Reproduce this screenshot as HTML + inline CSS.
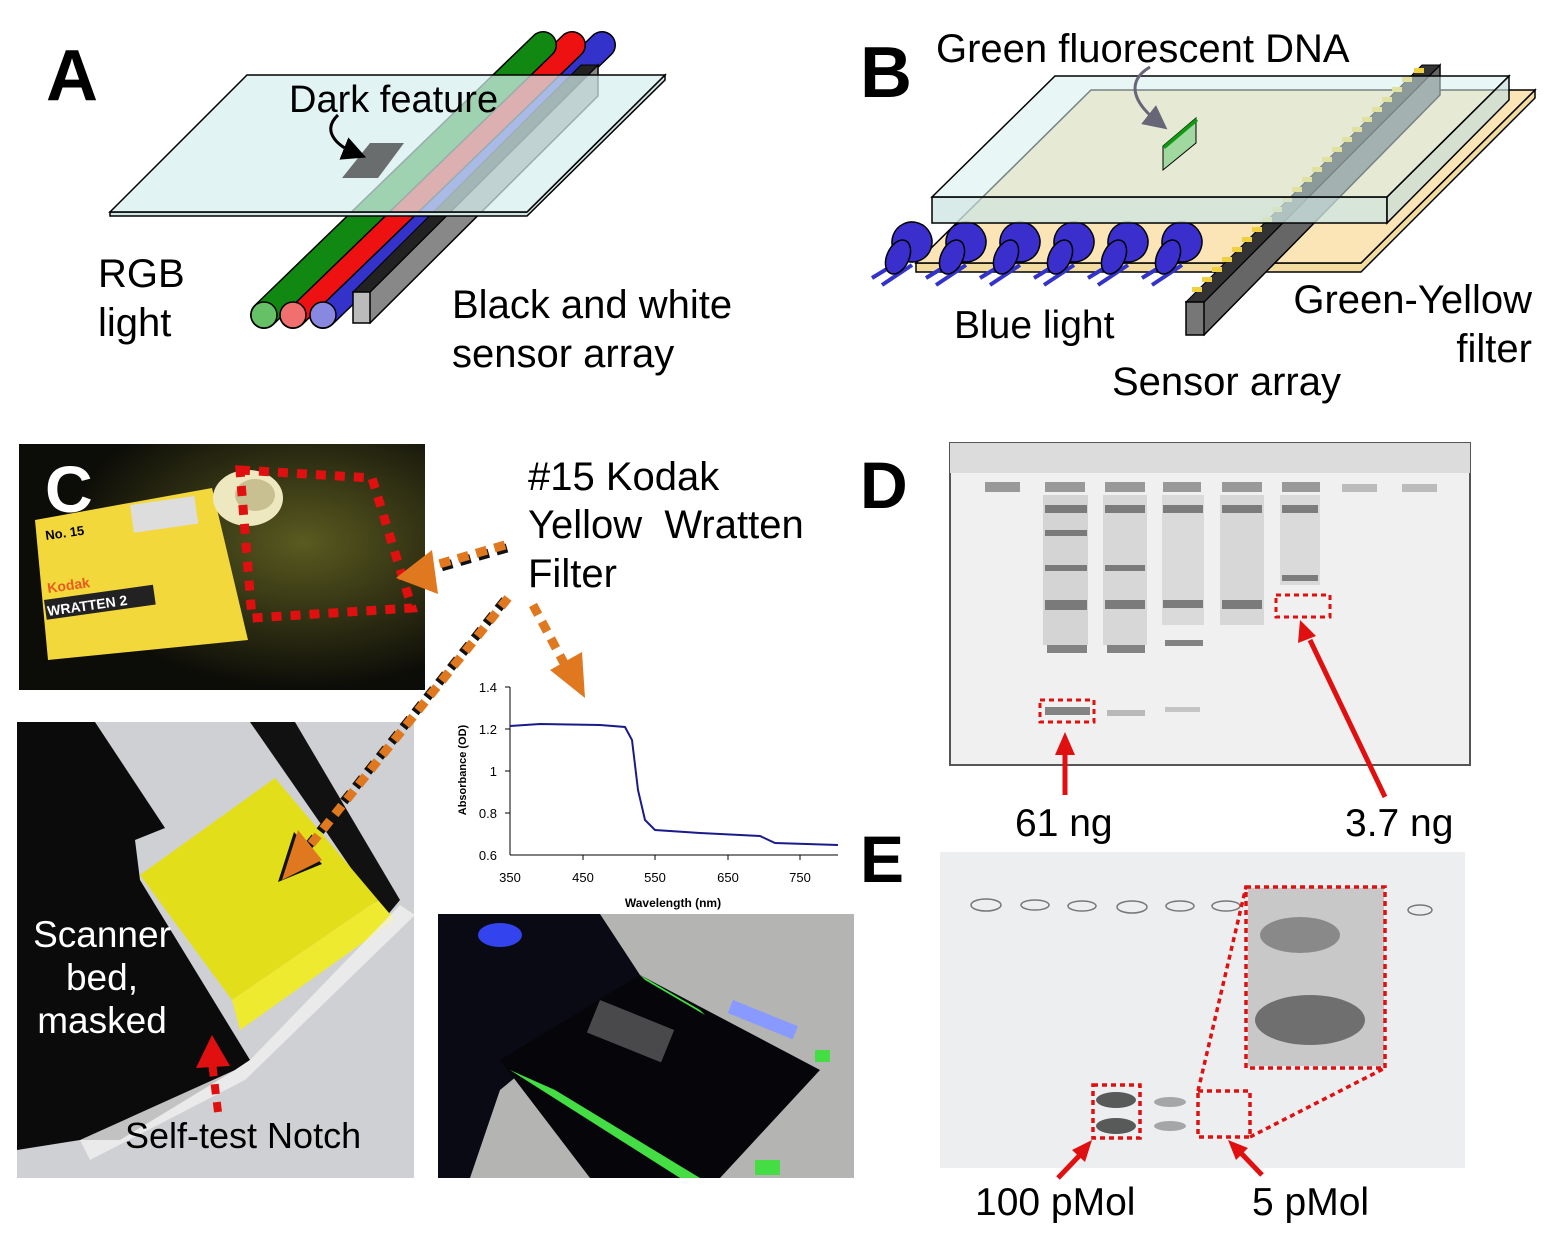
<!DOCTYPE html>
<html><head><meta charset="utf-8"><style>
html,body{margin:0;padding:0;background:#fff;}
svg{display:block;}
text{font-family:"Liberation Sans",Arial,sans-serif;}
</style></head><body>
<svg width="1560" height="1242" viewBox="0 0 1560 1242" xmlns="http://www.w3.org/2000/svg">
<defs>
<marker id="ah" markerWidth="8" markerHeight="8" refX="4" refY="4" orient="auto"><path d="M0,0 L8,4 L0,8 z" fill="#000"/></marker>
<marker id="ahg" markerWidth="8" markerHeight="8" refX="4" refY="4" orient="auto"><path d="M0,0 L8,4 L0,8 z" fill="#667"/></marker>
</defs>

<!-- ===== Panel A ===== -->
<text x="46" y="100" font-size="72" font-weight="bold">A</text>
<g stroke-linecap="round">
<line x1="323" y1="315" x2="602" y2="45" stroke="#000" stroke-width="28"/>
<line x1="323" y1="315" x2="602" y2="45" stroke="#3333cc" stroke-width="25"/>
<line x1="293" y1="315" x2="572" y2="45" stroke="#000" stroke-width="28"/>
<line x1="293" y1="315" x2="572" y2="45" stroke="#ee1111" stroke-width="25"/>
<line x1="264" y1="315" x2="543" y2="45" stroke="#000" stroke-width="28"/>
<line x1="264" y1="315" x2="543" y2="45" stroke="#118811" stroke-width="25"/>
</g>
<circle cx="323" cy="315" r="13" fill="#8888e0" stroke="#000" stroke-width="1.5"/>
<circle cx="293" cy="315" r="13" fill="#f07070" stroke="#000" stroke-width="1.5"/>
<circle cx="264" cy="315" r="13" fill="#66c066" stroke="#000" stroke-width="1.5"/>
<polygon points="353,292 370,292 598,65 598,96 370,323" fill="#888" stroke="#000" stroke-width="1.5"/>
<polygon points="353,292 581,65 598,65 370,292" fill="#222" stroke="#000" stroke-width="1"/>
<rect x="353" y="292" width="17" height="31" fill="#bbb" stroke="#000" stroke-width="1.5"/>
<polygon points="110,212 527,212 665,75 665,80 527,216 110,216" fill="#cfe6e4" stroke="#000" stroke-width="1.5"/>
<polygon points="110,212 527,212 665,75 247,75" fill="#d6eeee" fill-opacity="0.72" stroke="#000" stroke-width="1.5"/>
<polygon points="342,178 378,178 404,143 370,143" fill="#555" opacity="0.85"/>
<path d="M338,115 C322,130 335,145 355,153" fill="none" stroke="#000" stroke-width="3" marker-end="url(#ah)"/>
<text x="289" y="112" font-size="38">Dark feature</text>
<text x="98" y="287" font-size="40">RGB</text>
<text x="98" y="336" font-size="40">light</text>
<text x="452" y="318" font-size="40">Black and white</text>
<text x="452" y="367" font-size="40">sensor array</text>

<!-- ===== Panel B ===== -->
<text x="860" y="97" font-size="72" font-weight="bold">B</text>
<polygon points="916,263 1361,263 1535,90 1535,98 1361,272 916,272" fill="#f3dca0" stroke="#000" stroke-width="1.5"/>
<polygon points="916,263 1361,263 1535,90 1091,90" fill="#fbe5b6" stroke="#000" stroke-width="1.5"/>
<g stroke="#000" stroke-width="1.5">
<g id="led">
<line x1="872" y1="278" x2="905" y2="258" stroke="#3333cc" stroke-width="4"/>
<line x1="882" y1="285" x2="912" y2="265" stroke="#3333cc" stroke-width="4"/>
<rect x="892" y="222" width="40" height="40" rx="20" fill="#3a2fcc" transform="rotate(20 912 242)"/>
<ellipse cx="898" cy="257" rx="11" ry="18" fill="#3a2fcc" transform="rotate(25 898 257)"/>
</g>
<use href="#led" x="54"/><use href="#led" x="108"/><use href="#led" x="162"/><use href="#led" x="216"/><use href="#led" x="270"/>
</g>
<polygon points="1186,302 1204,302 1440,65 1440,95 1204,335" fill="#666" stroke="#000" stroke-width="1.5"/>
<polygon points="1186,302 1422,65 1440,65 1204,302" fill="#333" stroke="#000" stroke-width="1"/>
<rect x="1186" y="302" width="18" height="33" fill="#777" stroke="#000" stroke-width="1.5"/>
<g fill="#f0d040">
<rect x="1192" y="287" width="10" height="5"/><rect x="1202" y="277" width="10" height="5"/><rect x="1212" y="267" width="10" height="5"/>
<rect x="1222" y="257" width="10" height="5"/><rect x="1232" y="247" width="10" height="5"/><rect x="1242" y="237" width="10" height="5"/>
<rect x="1252" y="227" width="10" height="5"/><rect x="1262" y="217" width="10" height="5"/><rect x="1272" y="207" width="10" height="5"/>
<rect x="1282" y="197" width="10" height="5"/><rect x="1292" y="187" width="10" height="5"/><rect x="1302" y="177" width="10" height="5"/>
<rect x="1312" y="167" width="10" height="5"/><rect x="1322" y="157" width="10" height="5"/><rect x="1332" y="147" width="10" height="5"/>
<rect x="1342" y="137" width="10" height="5"/><rect x="1352" y="127" width="10" height="5"/><rect x="1362" y="117" width="10" height="5"/>
<rect x="1372" y="107" width="10" height="5"/><rect x="1382" y="97" width="10" height="5"/><rect x="1392" y="87" width="10" height="5"/>
<rect x="1402" y="77" width="10" height="5"/><rect x="1414" y="68" width="10" height="5"/>
</g>
<polygon points="932,197 1387,197 1387,223 932,223" fill="#cfe6e4" fill-opacity="0.8" stroke="#000" stroke-width="1.5"/>
<polygon points="1387,197 1509,76 1509,100 1387,223" fill="#c4dedc" fill-opacity="0.7" stroke="#000" stroke-width="1.5"/>
<polygon points="932,197 1387,197 1509,76 1055,76" fill="#d6eeee" fill-opacity="0.55" stroke="#000" stroke-width="1.5"/>
<polygon points="1163,146 1196,118 1196,143 1163,170" fill="#a0d8a0" stroke="#000" stroke-width="1"/>
<polygon points="1163,146 1196,118 1198,121 1165,149" fill="#119911"/>
<path d="M1150,67 C1128,80 1130,100 1158,122" fill="none" stroke="#667" stroke-width="3" marker-end="url(#ahg)"/>
<text x="936" y="62" font-size="40">Green fluorescent DNA</text>
<text x="954" y="338" font-size="39">Blue light</text>
<text x="1532" y="313" font-size="40" text-anchor="end">Green-Yellow</text>
<text x="1532" y="362" font-size="40" text-anchor="end">filter</text>
<text x="1112" y="395" font-size="40">Sensor array</text>

<!-- ===== Panel C ===== -->
<defs><radialGradient id="cg" cx="0.7" cy="0.4" r="0.6"><stop offset="0" stop-color="#5a5a20"/><stop offset="1" stop-color="#0c0c08"/></radialGradient></defs>
<rect x="19" y="444" width="406" height="246" fill="url(#cg)"/>
<polygon points="35,520 212,488 248,640 48,660" fill="#f2d83a"/>
<text x="46" y="540" font-size="13" font-weight="bold" transform="rotate(-8 46 540)">No. 15</text>
<rect x="130" y="505" width="65" height="28" fill="#ddd" transform="rotate(-8 130 505)"/>
<text x="48" y="593" font-size="14" fill="#e85a20" font-weight="bold" transform="rotate(-8 48 593)">Kodak</text>
<rect x="44" y="600" width="110" height="20" fill="#222" transform="rotate(-8 44 600)"/>
<text x="48" y="616" font-size="14" fill="#fff" font-weight="bold" transform="rotate(-8 48 616)">WRATTEN 2</text>
<ellipse cx="248" cy="498" rx="35" ry="28" fill="#eee8c0"/>
<ellipse cx="255" cy="495" rx="20" ry="16" fill="#c8c090"/>
<polygon points="240,470 372,478 412,608 252,618" fill="none" stroke="#e01010" stroke-width="9" stroke-dasharray="10,9"/>
<text x="45" y="512" font-size="66" font-weight="bold" fill="#fff">C</text>

<text x="528" y="490" font-size="40">#15 Kodak</text>
<text x="528" y="538" font-size="40" xml:space="preserve">Yellow&#160;&#160;Wratten</text>
<text x="528" y="587" font-size="40">Filter</text>

<rect x="17" y="722" width="397" height="456" fill="#cfd0d3"/>
<polygon points="17,722 95,722 165,828 135,840 140,880 250,1060 235,1070 120,1140 80,1140 17,1150" fill="#0b0b0b"/>
<polygon points="250,722 295,722 400,900 385,918 325,830" fill="#111"/>
<polygon points="140,875 275,778 378,900 232,1000" fill="#e3de1a"/>
<polygon points="232,1000 378,900 395,920 240,1030" fill="#eeea30"/>
<polygon points="80,1140 235,1070 250,1060 400,905 415,915 245,1080 90,1160" fill="#f0f0f0" opacity="0.8"/>
<text x="102" y="947" font-size="37" fill="#fff" text-anchor="middle">Scanner</text>
<text x="102" y="990" font-size="37" fill="#fff" text-anchor="middle">bed,</text>
<text x="102" y="1033" font-size="37" fill="#fff" text-anchor="middle">masked</text>
<text x="125" y="1148" font-size="36">Self-test Notch</text>
<line x1="218" y1="1112" x2="212" y2="1062" stroke="#e01010" stroke-width="8" stroke-dasharray="10,8"/>
<polygon points="196,1068 212,1035 230,1066" fill="#e01010"/>

<g stroke-width="9" stroke-dasharray="11,8" fill="none">
<line x1="505" y1="545" x2="425" y2="568" stroke="#111" transform="translate(2,3)"/>
<line x1="505" y1="545" x2="425" y2="568" stroke="#e07820"/>
<line x1="508" y1="598" x2="300" y2="858" stroke="#111" transform="translate(-3,2)"/>
<line x1="508" y1="598" x2="300" y2="858" stroke="#e07820"/>
<line x1="533" y1="605" x2="565" y2="665" stroke="#e07820"/>
</g>
<polygon points="396,578 432,550 438,594" fill="#e07820"/>
<polygon points="278,882 294,832 322,864" fill="#111"/>
<polygon points="282,880 298,830 322,860" fill="#e07820"/>
<polygon points="550,670 582,652 585,698" fill="#e07820"/>

<g stroke="#000" stroke-width="1" fill="none">
<line x1="510" y1="687" x2="510" y2="855"/>
<line x1="510" y1="855" x2="838" y2="855"/>
<line x1="505" y1="687" x2="510" y2="687"/><line x1="505" y1="729" x2="510" y2="729"/><line x1="505" y1="771" x2="510" y2="771"/><line x1="505" y1="813" x2="510" y2="813"/>
<line x1="583" y1="855" x2="583" y2="860"/><line x1="655" y1="855" x2="655" y2="860"/><line x1="728" y1="855" x2="728" y2="860"/><line x1="800" y1="855" x2="800" y2="860"/>
</g>
<path d="M510,726 L540,724 L600,725 L625,727 L632,740 L638,790 L645,820 L655,830 L700,833 L760,836 L775,843 L838,845" fill="none" stroke="#1a1a8a" stroke-width="2"/>
<g font-size="13" text-anchor="end"><text x="497" y="692">1.4</text><text x="497" y="734">1.2</text><text x="497" y="776">1</text><text x="497" y="818">0.8</text><text x="497" y="860">0.6</text></g>
<g font-size="13" text-anchor="middle"><text x="510" y="882">350</text><text x="583" y="882">450</text><text x="655" y="882">550</text><text x="728" y="882">650</text><text x="800" y="882">750</text></g>
<text x="673" y="907" font-size="12" font-weight="bold" text-anchor="middle">Wavelength (nm)</text>
<text x="466" y="770" font-size="11" font-weight="bold" text-anchor="middle" transform="rotate(-90 466 770)">Absorbance (OD)</text>

<rect x="438" y="914" width="416" height="264" fill="#b4b4b2"/>
<polygon points="438,914 600,914 640,975 500,1090 470,1178 438,1178" fill="#0a0a14"/>
<polygon points="500,1060 640,975 820,1070 720,1178 590,1178" fill="#05050a"/>
<ellipse cx="500" cy="935" rx="22" ry="12" fill="#3344ee"/>
<polygon points="510,1070 555,1090 700,1178 680,1178" fill="#44dd44"/>
<polygon points="640,975 700,1010 705,1015 645,980" fill="#44dd44"/>
<rect x="733" y="1000" width="70" height="14" fill="#8899ff" transform="rotate(22 733 1000)"/>
<rect x="815" y="1050" width="15" height="12" fill="#44dd44"/>
<rect x="755" y="1160" width="25" height="15" fill="#44dd44"/>
<rect x="600" y="1000" width="80" height="35" fill="#777" opacity="0.6" transform="rotate(22 600 1000)"/>

<!-- ===== Panel D ===== -->
<text x="860" y="508" font-size="66" font-weight="bold">D</text>
<rect x="950" y="443" width="520" height="322" fill="#f0f0f1"/>
<rect x="950" y="443" width="520" height="322" fill="none" stroke="#555" stroke-width="2"/>
<rect x="950" y="443" width="520" height="30" fill="#dcdcdc"/>
<g fill="#999"><rect x="985" y="482" width="35" height="10"/><rect x="1045" y="482" width="40" height="10"/><rect x="1105" y="482" width="40" height="10"/><rect x="1163" y="482" width="38" height="10"/><rect x="1222" y="482" width="40" height="10"/><rect x="1282" y="482" width="38" height="10"/><rect x="1342" y="484" width="35" height="8" fill="#bbb"/><rect x="1402" y="484" width="35" height="8" fill="#bbb"/></g>
<g fill="#666" opacity="0.45">
<rect x="1043" y="495" width="45" height="150" opacity="0.45"/>
<rect x="1103" y="495" width="44" height="150" opacity="0.4"/>
<rect x="1162" y="495" width="42" height="130" opacity="0.35"/>
<rect x="1220" y="495" width="44" height="130" opacity="0.4"/>
<rect x="1280" y="495" width="40" height="90" opacity="0.35"/>
</g>
<g fill="#555" opacity="0.7">
<rect x="1045" y="505" width="42" height="8"/><rect x="1045" y="530" width="42" height="6"/><rect x="1045" y="565" width="42" height="6"/><rect x="1045" y="600" width="42" height="10"/><rect x="1047" y="645" width="40" height="8"/>
<rect x="1105" y="505" width="40" height="8"/><rect x="1105" y="565" width="40" height="6"/><rect x="1105" y="600" width="40" height="9"/><rect x="1107" y="645" width="38" height="8"/>
<rect x="1163" y="505" width="40" height="8"/><rect x="1163" y="600" width="40" height="8"/><rect x="1165" y="640" width="38" height="6"/>
<rect x="1222" y="505" width="40" height="8"/><rect x="1222" y="600" width="40" height="9"/>
<rect x="1282" y="505" width="36" height="8"/><rect x="1282" y="575" width="36" height="6"/>
<rect x="1045" y="707" width="45" height="8"/><rect x="1107" y="710" width="38" height="6" opacity="0.5"/><rect x="1165" y="707" width="35" height="5" opacity="0.4"/>
</g>
<rect x="1040" y="700" width="54" height="22" fill="none" stroke="#e01010" stroke-width="3" stroke-dasharray="5,4"/>
<rect x="1276" y="595" width="54" height="22" fill="none" stroke="#e01010" stroke-width="3" stroke-dasharray="5,4"/>
<line x1="1065" y1="795" x2="1065" y2="750" stroke="#e01010" stroke-width="5"/>
<polygon points="1055,755 1065,732 1075,755" fill="#e01010"/>
<line x1="1385" y1="797" x2="1310" y2="640" stroke="#e01010" stroke-width="5"/>
<polygon points="1298,643 1300,620 1316,636" fill="#e01010"/>
<text x="1015" y="836" font-size="39">61 ng</text>
<text x="1345" y="836" font-size="39">3.7 ng</text>

<!-- ===== Panel E ===== -->
<text x="860" y="882" font-size="66" font-weight="bold">E</text>
<rect x="940" y="852" width="525" height="316" fill="#eceef0"/>
<g fill="none" stroke="#777" stroke-width="1.5">
<ellipse cx="986" cy="905" rx="15" ry="6"/><ellipse cx="1035" cy="905" rx="14" ry="5"/><ellipse cx="1082" cy="906" rx="14" ry="5"/><ellipse cx="1132" cy="907" rx="15" ry="6"/><ellipse cx="1180" cy="906" rx="14" ry="5"/><ellipse cx="1226" cy="906" rx="14" ry="5"/><ellipse cx="1420" cy="910" rx="12" ry="5"/>
</g>
<rect x="1248" y="888" width="136" height="178" fill="#c8c8c8"/>
<ellipse cx="1300" cy="935" rx="40" ry="18" fill="#555" opacity="0.55"/>
<ellipse cx="1310" cy="1020" rx="55" ry="25" fill="#333" opacity="0.6"/>
<ellipse cx="1116" cy="1100" rx="20" ry="8" fill="#333" opacity="0.8"/>
<ellipse cx="1116" cy="1126" rx="20" ry="8" fill="#333" opacity="0.8"/>
<ellipse cx="1170" cy="1102" rx="16" ry="5" fill="#777" opacity="0.6"/>
<ellipse cx="1170" cy="1126" rx="16" ry="5" fill="#777" opacity="0.6"/>
<g fill="none" stroke="#e01010" stroke-width="3.5" stroke-dasharray="5,4">
<rect x="1093" y="1085" width="47" height="53"/>
<rect x="1198" y="1091" width="52" height="46"/>
<rect x="1246" y="887" width="139" height="181"/>
<line x1="1198" y1="1091" x2="1246" y2="887"/>
<line x1="1250" y1="1137" x2="1385" y2="1068"/>
</g>
<line x1="1058" y1="1178" x2="1080" y2="1155" stroke="#e01010" stroke-width="5"/>
<polygon points="1072,1150 1092,1140 1085,1162" fill="#e01010"/>
<line x1="1262" y1="1175" x2="1240" y2="1152" stroke="#e01010" stroke-width="5"/>
<polygon points="1228,1140 1248,1148 1236,1160" fill="#e01010"/>
<text x="975" y="1215" font-size="39">100 pMol</text>
<text x="1252" y="1215" font-size="39">5 pMol</text>
</svg>
</body></html>
